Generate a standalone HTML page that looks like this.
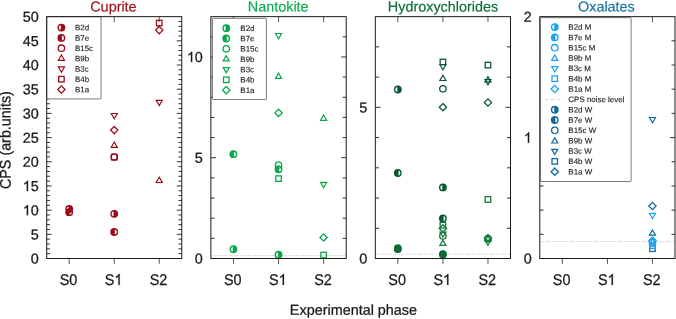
<!DOCTYPE html>
<html><head><meta charset="utf-8"><title>chart</title>
<style>html,body{margin:0;padding:0;background:#fff}body{width:676px;height:319px;overflow:hidden;position:relative;font-family:"Liberation Sans",sans-serif}</style>
</head><body>
<svg width="676" height="319" viewBox="0 0 676 319" style="position:absolute;left:0;top:0;will-change:transform;text-rendering:geometricPrecision;font-family:'Liberation Sans',sans-serif">
<rect width="676" height="319" fill="#fff"/>
<path d="M46.7,253.66h3.3M181.75,253.66h-3.3M46.7,248.83h3.3M181.75,248.83h-3.3M46.7,243.99h3.3M181.75,243.99h-3.3M46.7,239.15h3.3M181.75,239.15h-3.3M46.7,234.31h5.0M181.75,234.31h-5.0M46.7,229.48h3.3M181.75,229.48h-3.3M46.7,224.64h3.3M181.75,224.64h-3.3M46.7,219.80h3.3M181.75,219.80h-3.3M46.7,214.97h3.3M181.75,214.97h-3.3M46.7,210.13h5.0M181.75,210.13h-5.0M46.7,205.29h3.3M181.75,205.29h-3.3M46.7,200.46h3.3M181.75,200.46h-3.3M46.7,195.62h3.3M181.75,195.62h-3.3M46.7,190.78h3.3M181.75,190.78h-3.3M46.7,185.94h5.0M181.75,185.94h-5.0M46.7,181.11h3.3M181.75,181.11h-3.3M46.7,176.27h3.3M181.75,176.27h-3.3M46.7,171.43h3.3M181.75,171.43h-3.3M46.7,166.60h3.3M181.75,166.60h-3.3M46.7,161.76h5.0M181.75,161.76h-5.0M46.7,156.92h3.3M181.75,156.92h-3.3M46.7,152.09h3.3M181.75,152.09h-3.3M46.7,147.25h3.3M181.75,147.25h-3.3M46.7,142.41h3.3M181.75,142.41h-3.3M46.7,137.57h5.0M181.75,137.57h-5.0M46.7,132.74h3.3M181.75,132.74h-3.3M46.7,127.90h3.3M181.75,127.90h-3.3M46.7,123.06h3.3M181.75,123.06h-3.3M46.7,118.23h3.3M181.75,118.23h-3.3M46.7,113.39h5.0M181.75,113.39h-5.0M46.7,108.55h3.3M181.75,108.55h-3.3M46.7,103.72h3.3M181.75,103.72h-3.3M46.7,98.88h3.3M181.75,98.88h-3.3M46.7,94.04h3.3M181.75,94.04h-3.3M46.7,89.21h5.0M181.75,89.21h-5.0M46.7,84.37h3.3M181.75,84.37h-3.3M46.7,79.53h3.3M181.75,79.53h-3.3M46.7,74.69h3.3M181.75,74.69h-3.3M46.7,69.86h3.3M181.75,69.86h-3.3M46.7,65.02h5.0M181.75,65.02h-5.0M46.7,60.18h3.3M181.75,60.18h-3.3M46.7,55.35h3.3M181.75,55.35h-3.3M46.7,50.51h3.3M181.75,50.51h-3.3M46.7,45.67h3.3M181.75,45.67h-3.3M46.7,40.84h5.0M181.75,40.84h-5.0M46.7,36.00h3.3M181.75,36.00h-3.3M46.7,31.16h3.3M181.75,31.16h-3.3M46.7,26.32h3.3M181.75,26.32h-3.3M46.7,21.49h3.3M181.75,21.49h-3.3" stroke="#1a1a1a" stroke-width="0.9" fill="none"/>
<path d="M69.21,16.65v5.4M69.21,258.5v5.4M114.23,16.65v5.4M114.23,258.5v5.4M159.24,16.65v5.4M159.24,258.5v5.4" stroke="#444" stroke-width="0.9" fill="none"/>
<circle cx="69.21" cy="209.0" r="3.2" fill="none" stroke="#980d17" stroke-width="1.4"/><path d="M68.81,205.82 A3.2,3.2 0 1 1 68.81,212.18 Z" fill="#980d17" stroke="#980d17" stroke-width="0.5"/>
<circle cx="69.21" cy="212.2" r="3.2" fill="none" stroke="#980d17" stroke-width="1.4"/><path d="M69.61,209.02 A3.2,3.2 0 1 0 69.61,215.38 Z" fill="#980d17" stroke="#980d17" stroke-width="0.5"/>
<circle cx="114.23" cy="213.8" r="3.2" fill="none" stroke="#980d17" stroke-width="1.4"/><path d="M113.83,210.62 A3.2,3.2 0 1 1 113.83,216.98 Z" fill="#980d17" stroke="#980d17" stroke-width="0.5"/>
<circle cx="114.23" cy="232.0" r="3.2" fill="none" stroke="#980d17" stroke-width="1.4"/><path d="M114.63,228.82 A3.2,3.2 0 1 0 114.63,235.18 Z" fill="#980d17" stroke="#980d17" stroke-width="0.5"/>
<circle cx="114.23" cy="157.1" r="3.2" fill="none" stroke="#980d17" stroke-width="1.3" stroke-linejoin="miter"/>
<rect x="111.48" y="154.35" width="5.5" height="5.5" fill="none" stroke="#980d17" stroke-width="1.3" stroke-linejoin="miter"/>
<path d="M114.23,142.03 L111.18,147.32 L117.28,147.32 Z" fill="none" stroke="#980d17" stroke-width="1.2" stroke-linejoin="miter"/>
<path d="M114.23,126.47 L117.86,130.1 L114.23,133.73 L110.6,130.1 Z" fill="none" stroke="#980d17" stroke-width="1.3" stroke-linejoin="miter"/>
<path d="M114.23,118.77 L111.18,113.48 L117.28,113.48 Z" fill="none" stroke="#980d17" stroke-width="1.2" stroke-linejoin="miter"/>
<rect x="156.49" y="20.25" width="5.5" height="5.5" fill="none" stroke="#980d17" stroke-width="1.3" stroke-linejoin="miter"/>
<path d="M159.24,26.47 L162.87,30.1 L159.24,33.73 L155.61,30.1 Z" fill="none" stroke="#980d17" stroke-width="1.3" stroke-linejoin="miter"/>
<path d="M159.24,105.57 L156.19,100.28 L162.29,100.28 Z" fill="none" stroke="#980d17" stroke-width="1.2" stroke-linejoin="miter"/>
<path d="M159.24,177.23 L156.19,182.52 L162.29,182.52 Z" fill="none" stroke="#980d17" stroke-width="1.2" stroke-linejoin="miter"/>
<line x1="210.85" y1="255.68" x2="346.2" y2="255.68" stroke="#d4d4d4" stroke-width="0.8" stroke-dasharray="4.6 1.4"/>
<path d="M210.85,238.35h3.7M346.2,238.35h-3.5M210.85,218.19h3.7M346.2,218.19h-3.5M210.85,198.04h3.7M346.2,198.04h-3.5M210.85,177.88h3.7M346.2,177.88h-3.5M210.85,157.73h5.3M346.2,157.73h-5.1M210.85,137.57h3.7M346.2,137.57h-3.5M210.85,117.42h3.7M346.2,117.42h-3.5M210.85,97.27h3.7M346.2,97.27h-3.5M210.85,77.11h3.7M346.2,77.11h-3.5M210.85,56.96h5.3M346.2,56.96h-5.1M210.85,36.80h3.7M346.2,36.80h-3.5" stroke="#1a1a1a" stroke-width="0.9" fill="none"/>
<path d="M233.41,16.65v5.4M233.41,258.5v5.4M278.52,16.65v5.4M278.52,258.5v5.4M323.64,16.65v5.4M323.64,258.5v5.4" stroke="#444" stroke-width="0.9" fill="none"/>
<circle cx="233.41" cy="154.2" r="3.2" fill="none" stroke="#0aa64b" stroke-width="1.4"/><path d="M233.81,151.02 A3.2,3.2 0 1 0 233.81,157.38 Z" fill="#0aa64b" stroke="#0aa64b" stroke-width="0.5"/>
<circle cx="233.41" cy="249.2" r="3.2" fill="none" stroke="#0aa64b" stroke-width="1.4"/><path d="M233.01,246.02 A3.2,3.2 0 1 1 233.01,252.38 Z" fill="#0aa64b" stroke="#0aa64b" stroke-width="0.5"/>
<path d="M278.52,38.77 L275.47,33.48 L281.57,33.48 Z" fill="none" stroke="#0aa64b" stroke-width="1.2" stroke-linejoin="miter"/>
<path d="M278.52,73.13 L275.47,78.42 L281.57,78.42 Z" fill="none" stroke="#0aa64b" stroke-width="1.2" stroke-linejoin="miter"/>
<path d="M278.52,109.27 L282.15,112.9 L278.52,116.53 L274.89,112.9 Z" fill="none" stroke="#0aa64b" stroke-width="1.3" stroke-linejoin="miter"/>
<circle cx="278.52" cy="165.0" r="3.2" fill="none" stroke="#0aa64b" stroke-width="1.3" stroke-linejoin="miter"/>
<circle cx="278.52" cy="169.3" r="3.2" fill="none" stroke="#0aa64b" stroke-width="1.4"/><path d="M278.92,166.12 A3.2,3.2 0 1 0 278.92,172.48 Z" fill="#0aa64b" stroke="#0aa64b" stroke-width="0.5"/>
<rect x="275.77" y="175.85" width="5.5" height="5.5" fill="none" stroke="#0aa64b" stroke-width="1.3" stroke-linejoin="miter"/>
<circle cx="278.52" cy="254.7" r="3.2" fill="none" stroke="#0aa64b" stroke-width="1.4"/><path d="M278.12,251.52 A3.2,3.2 0 1 1 278.12,257.88 Z" fill="#0aa64b" stroke="#0aa64b" stroke-width="0.5"/>
<path d="M323.64,115.03 L320.59,120.32 L326.69,120.32 Z" fill="none" stroke="#0aa64b" stroke-width="1.2" stroke-linejoin="miter"/>
<path d="M323.64,187.67 L320.59,182.38 L326.69,182.38 Z" fill="none" stroke="#0aa64b" stroke-width="1.2" stroke-linejoin="miter"/>
<path d="M323.64,233.87 L327.27,237.5 L323.64,241.13 L320.01,237.5 Z" fill="none" stroke="#0aa64b" stroke-width="1.3" stroke-linejoin="miter"/>
<rect x="320.89" y="252.35" width="5.5" height="5.5" fill="none" stroke="#0aa64b" stroke-width="1.3" stroke-linejoin="miter"/>
<line x1="375.3" y1="254.27" x2="510.5" y2="254.27" stroke="#d4d4d4" stroke-width="0.8" stroke-dasharray="4.6 1.4"/>
<path d="M375.3,228.27h3.7M510.5,228.27h-3.5M375.3,198.04h3.7M510.5,198.04h-3.5M375.3,167.81h3.7M510.5,167.81h-3.5M375.3,137.57h3.7M510.5,137.57h-3.5M375.3,107.34h5.3M510.5,107.34h-5.1M375.3,77.11h3.7M510.5,77.11h-3.5M375.3,46.88h3.7M510.5,46.88h-3.5" stroke="#1a1a1a" stroke-width="0.9" fill="none"/>
<path d="M397.83,16.65v5.4M397.83,258.5v5.4M442.90,16.65v5.4M442.90,258.5v5.4M487.97,16.65v5.4M487.97,258.5v5.4" stroke="#444" stroke-width="0.9" fill="none"/>
<circle cx="397.83" cy="89.5" r="3.2" fill="none" stroke="#0a5832" stroke-width="1.4"/><path d="M397.43,86.33 A3.2,3.2 0 1 1 397.43,92.67 Z" fill="#0a5832" stroke="#0a5832" stroke-width="0.5"/>
<circle cx="397.83" cy="173.0" r="3.2" fill="none" stroke="#0a5832" stroke-width="1.4"/><path d="M398.23,169.82 A3.2,3.2 0 1 0 398.23,176.18 Z" fill="#0a5832" stroke="#0a5832" stroke-width="0.5"/>
<circle cx="397.83" cy="248.2" r="3.2" fill="#0d6c34" stroke="#0d6c34" stroke-width="1.3"/>
<circle cx="397.83" cy="249.2" r="3.2" fill="#0d6c34" stroke="#0d6c34" stroke-width="1.3"/>
<rect x="440.15" y="59.25" width="5.5" height="5.5" fill="none" stroke="#0a5832" stroke-width="1.3" stroke-linejoin="miter"/>
<path d="M442.9,69.77 L439.85,64.48 L445.95,64.48 Z" fill="none" stroke="#0a5832" stroke-width="1.2" stroke-linejoin="miter"/>
<path d="M442.9,75.23 L439.85,80.52 L445.95,80.52 Z" fill="none" stroke="#0a5832" stroke-width="1.2" stroke-linejoin="miter"/>
<circle cx="442.9" cy="88.8" r="3.2" fill="none" stroke="#0a5832" stroke-width="1.3" stroke-linejoin="miter"/>
<path d="M442.9,103.57 L446.53,107.2 L442.9,110.83 L439.27,107.2 Z" fill="none" stroke="#0a5832" stroke-width="1.3" stroke-linejoin="miter"/>
<circle cx="442.9" cy="187.4" r="3.2" fill="none" stroke="#0a5832" stroke-width="1.4"/><path d="M442.5,184.22 A3.2,3.2 0 1 1 442.5,190.58 Z" fill="#0a5832" stroke="#0a5832" stroke-width="0.5"/>
<circle cx="442.9" cy="218.5" r="3.2" fill="none" stroke="#0a5832" stroke-width="1.4"/><path d="M443.3,215.32 A3.2,3.2 0 1 0 443.3,221.68 Z" fill="#0a5832" stroke="#0a5832" stroke-width="0.5"/>
<rect x="440.15" y="222.45" width="5.5" height="5.5" fill="none" stroke="#0f7a38" stroke-width="1.3" stroke-linejoin="miter"/>
<path d="M442.9,224.77 L446.53,228.4 L442.9,232.03 L439.27,228.4 Z" fill="none" stroke="#0f7a38" stroke-width="1.3" stroke-linejoin="miter"/>
<path d="M442.9,237.27 L439.85,231.98 L445.95,231.98 Z" fill="none" stroke="#0f7a38" stroke-width="1.2" stroke-linejoin="miter"/>
<circle cx="442.9" cy="235.9" r="3.2" fill="none" stroke="#0f7a38" stroke-width="1.3" stroke-linejoin="miter"/>
<path d="M442.9,240.13 L439.85,245.42 L445.95,245.42 Z" fill="none" stroke="#0f7a38" stroke-width="1.2" stroke-linejoin="miter"/>
<circle cx="442.9" cy="254.0" r="3.2" fill="#0d6c34" stroke="#0d6c34" stroke-width="1.3"/>
<circle cx="442.9" cy="254.6" r="3.2" fill="#0d6c34" stroke="#0d6c34" stroke-width="1.3"/>
<rect x="485.22" y="62.35" width="5.5" height="5.5" fill="none" stroke="#0a5832" stroke-width="1.3" stroke-linejoin="miter"/>
<path d="M487.97,76.63 L484.92,81.92 L491.02,81.92 Z" fill="none" stroke="#0a5832" stroke-width="1.2" stroke-linejoin="miter"/>
<path d="M487.97,84.87 L484.92,79.58 L491.02,79.58 Z" fill="none" stroke="#0a5832" stroke-width="1.2" stroke-linejoin="miter"/>
<path d="M487.97,98.87 L491.6,102.5 L487.97,106.13 L484.34,102.5 Z" fill="none" stroke="#0a5832" stroke-width="1.3" stroke-linejoin="miter"/>
<rect x="485.22" y="196.75" width="5.5" height="5.5" fill="none" stroke="#0f7a38" stroke-width="1.3" stroke-linejoin="miter"/>
<path d="M487.97,234.67 L491.6,238.3 L487.97,241.93 L484.34,238.3 Z" fill="none" stroke="#0f7a38" stroke-width="1.3" stroke-linejoin="miter"/>
<circle cx="487.97" cy="238.6" r="3.2" fill="none" stroke="#0f7a38" stroke-width="1.3" stroke-linejoin="miter"/>
<path d="M487.97,235.83 L484.92,241.12 L491.02,241.12 Z" fill="none" stroke="#0f7a38" stroke-width="1.2" stroke-linejoin="miter"/>
<path d="M487.97,245.37 L484.92,240.08 L491.02,240.08 Z" fill="none" stroke="#0f7a38" stroke-width="1.2" stroke-linejoin="miter"/>
<line x1="539.8" y1="241.57" x2="675.0" y2="241.57" stroke="#d4d4d4" stroke-width="0.8" stroke-dasharray="4.6 1.4"/>
<path d="M539.8,234.31h3.7M675.0,234.31h-3.5M539.8,210.13h3.7M675.0,210.13h-3.5M539.8,185.94h3.7M675.0,185.94h-3.5M539.8,161.76h3.7M675.0,161.76h-3.5M539.8,137.57h5.3M675.0,137.57h-5.1M539.8,113.39h3.7M675.0,113.39h-3.5M539.8,89.20h3.7M675.0,89.20h-3.5M539.8,65.02h3.7M675.0,65.02h-3.5M539.8,40.84h3.7M675.0,40.84h-3.5" stroke="#1a1a1a" stroke-width="0.9" fill="none"/>
<path d="M562.33,16.65v5.4M562.33,258.5v5.4M607.40,16.65v5.4M607.40,258.5v5.4M652.47,16.65v5.4M652.47,258.5v5.4" stroke="#444" stroke-width="0.9" fill="none"/>
<path d="M652.47,122.77 L649.42,117.48 L655.52,117.48 Z" fill="none" stroke="#14699b" stroke-width="1.2" stroke-linejoin="miter"/>
<path d="M652.47,202.37 L656.1,206.0 L652.47,209.63 L648.84,206.0 Z" fill="none" stroke="#14699b" stroke-width="1.3" stroke-linejoin="miter"/>
<path d="M652.47,218.57 L649.42,213.28 L655.52,213.28 Z" fill="none" stroke="#18a4f0" stroke-width="1.2" stroke-linejoin="miter"/>
<path d="M652.47,229.83 L649.42,235.12 L655.52,235.12 Z" fill="none" stroke="#14699b" stroke-width="1.2" stroke-linejoin="miter"/>
<rect x="649.72" y="245.95" width="5.5" height="5.5" fill="none" stroke="#14699b" stroke-width="1.3" stroke-linejoin="miter"/>
<path d="M652.47,236.87 L656.1,240.5 L652.47,244.13 L648.84,240.5 Z" fill="none" stroke="#18a4f0" stroke-width="1.3" stroke-linejoin="miter"/>
<path d="M652.47,238.93 L649.42,244.22 L655.52,244.22 Z" fill="none" stroke="#18a4f0" stroke-width="1.2" stroke-linejoin="miter"/>
<circle cx="652.47" cy="242.2" r="3.2" fill="none" stroke="#18a4f0" stroke-width="1.3" stroke-linejoin="miter"/>
<rect x="649.72" y="242.85" width="5.5" height="5.5" fill="none" stroke="#18a4f0" stroke-width="1.3" stroke-linejoin="miter"/>
<rect x="46.70" y="16.65" width="54.30" height="82.25" rx="0.6" fill="#fff" stroke="#7a7a7a" stroke-width="1"/>
<circle cx="61.4" cy="27.55" r="3.2" fill="none" stroke="#980d17" stroke-width="1.4"/><path d="M61.0,24.38 A3.2,3.2 0 1 1 61.0,30.73 Z" fill="#980d17" stroke="#980d17" stroke-width="0.5"/>
<text transform="translate(75.00,30.35) rotate(0.03)" font-size="7.95" fill="#1c1c1c" stroke="#1c1c1c" stroke-width="0.12">B2d</text>
<circle cx="61.4" cy="37.88" r="3.2" fill="none" stroke="#980d17" stroke-width="1.4"/><path d="M61.8,34.71 A3.2,3.2 0 1 0 61.8,41.05 Z" fill="#980d17" stroke="#980d17" stroke-width="0.5"/>
<text transform="translate(75.00,40.68) rotate(0.03)" font-size="7.95" fill="#1c1c1c" stroke="#1c1c1c" stroke-width="0.12">B7e</text>
<circle cx="61.4" cy="48.21" r="3.2" fill="none" stroke="#980d17" stroke-width="1.3" stroke-linejoin="miter"/>
<text transform="translate(75.00,51.01) rotate(0.03)" font-size="7.95" fill="#1c1c1c" stroke="#1c1c1c" stroke-width="0.12">B15c</text>
<path d="M61.4,55.02 L58.35,60.31 L64.45,60.31 Z" fill="none" stroke="#980d17" stroke-width="1.2" stroke-linejoin="miter"/>
<text transform="translate(75.00,61.34) rotate(0.03)" font-size="7.95" fill="#1c1c1c" stroke="#1c1c1c" stroke-width="0.12">B9b</text>
<path d="M61.4,72.24 L58.35,66.95 L64.45,66.95 Z" fill="none" stroke="#980d17" stroke-width="1.2" stroke-linejoin="miter"/>
<text transform="translate(75.00,71.67) rotate(0.03)" font-size="7.95" fill="#1c1c1c" stroke="#1c1c1c" stroke-width="0.12">B3c</text>
<rect x="58.65" y="76.45" width="5.5" height="5.5" fill="none" stroke="#980d17" stroke-width="1.3" stroke-linejoin="miter"/>
<text transform="translate(75.00,82.00) rotate(0.03)" font-size="7.95" fill="#1c1c1c" stroke="#1c1c1c" stroke-width="0.12">B4b</text>
<path d="M61.4,85.9 L65.03,89.53 L61.4,93.16 L57.77,89.53 Z" fill="none" stroke="#980d17" stroke-width="1.3" stroke-linejoin="miter"/>
<text transform="translate(75.00,92.33) rotate(0.03)" font-size="7.95" fill="#1c1c1c" stroke="#1c1c1c" stroke-width="0.12">B1a</text>
<rect x="212.45" y="18.30" width="53.95" height="81.20" rx="0.6" fill="#fff" stroke="#7a7a7a" stroke-width="1"/>
<circle cx="226.25" cy="28.15" r="3.2" fill="none" stroke="#0aa64b" stroke-width="1.4"/><path d="M225.85,24.97 A3.2,3.2 0 1 1 225.85,31.32 Z" fill="#0aa64b" stroke="#0aa64b" stroke-width="0.5"/>
<text transform="translate(240.35,30.95) rotate(0.03)" font-size="7.95" fill="#1c1c1c" stroke="#1c1c1c" stroke-width="0.12">B2d</text>
<circle cx="226.25" cy="38.48" r="3.2" fill="none" stroke="#0aa64b" stroke-width="1.4"/><path d="M226.65,35.3 A3.2,3.2 0 1 0 226.65,41.65 Z" fill="#0aa64b" stroke="#0aa64b" stroke-width="0.5"/>
<text transform="translate(240.35,41.28) rotate(0.03)" font-size="7.95" fill="#1c1c1c" stroke="#1c1c1c" stroke-width="0.12">B7e</text>
<circle cx="226.25" cy="48.81" r="3.2" fill="none" stroke="#0aa64b" stroke-width="1.3" stroke-linejoin="miter"/>
<text transform="translate(240.35,51.61) rotate(0.03)" font-size="7.95" fill="#1c1c1c" stroke="#1c1c1c" stroke-width="0.12">B15c</text>
<path d="M226.25,55.62 L223.2,60.91 L229.3,60.91 Z" fill="none" stroke="#0aa64b" stroke-width="1.2" stroke-linejoin="miter"/>
<text transform="translate(240.35,61.94) rotate(0.03)" font-size="7.95" fill="#1c1c1c" stroke="#1c1c1c" stroke-width="0.12">B9b</text>
<path d="M226.25,72.84 L223.2,67.55 L229.3,67.55 Z" fill="none" stroke="#0aa64b" stroke-width="1.2" stroke-linejoin="miter"/>
<text transform="translate(240.35,72.27) rotate(0.03)" font-size="7.95" fill="#1c1c1c" stroke="#1c1c1c" stroke-width="0.12">B3c</text>
<rect x="223.5" y="77.05" width="5.5" height="5.5" fill="none" stroke="#0aa64b" stroke-width="1.3" stroke-linejoin="miter"/>
<text transform="translate(240.35,82.60) rotate(0.03)" font-size="7.95" fill="#1c1c1c" stroke="#1c1c1c" stroke-width="0.12">B4b</text>
<path d="M226.25,86.5 L229.88,90.13 L226.25,93.76 L222.62,90.13 Z" fill="none" stroke="#0aa64b" stroke-width="1.3" stroke-linejoin="miter"/>
<text transform="translate(240.35,92.93) rotate(0.03)" font-size="7.95" fill="#1c1c1c" stroke="#1c1c1c" stroke-width="0.12">B1a</text>
<rect x="540.30" y="17.65" width="90.80" height="163.85" rx="0.6" fill="#fff" stroke="#7a7a7a" stroke-width="1"/>
<circle cx="554.75" cy="27.05" r="3.2" fill="none" stroke="#18a4f0" stroke-width="1.4"/><path d="M554.35,23.88 A3.2,3.2 0 1 1 554.35,30.23 Z" fill="#18a4f0" stroke="#18a4f0" stroke-width="0.5"/>
<text transform="translate(568.35,29.80) rotate(0.03)" font-size="7.95" fill="#1c1c1c" stroke="#1c1c1c" stroke-width="0.12">B2d M</text>
<circle cx="554.75" cy="37.38" r="3.2" fill="none" stroke="#18a4f0" stroke-width="1.4"/><path d="M555.15,34.21 A3.2,3.2 0 1 0 555.15,40.55 Z" fill="#18a4f0" stroke="#18a4f0" stroke-width="0.5"/>
<text transform="translate(568.35,40.13) rotate(0.03)" font-size="7.95" fill="#1c1c1c" stroke="#1c1c1c" stroke-width="0.12">B7e M</text>
<circle cx="554.75" cy="47.71" r="3.2" fill="none" stroke="#18a4f0" stroke-width="1.3" stroke-linejoin="miter"/>
<text transform="translate(568.35,50.46) rotate(0.03)" font-size="7.95" fill="#1c1c1c" stroke="#1c1c1c" stroke-width="0.12">B15c M</text>
<path d="M554.75,55.07 L551.7,60.36 L557.8,60.36 Z" fill="none" stroke="#18a4f0" stroke-width="1.2" stroke-linejoin="miter"/>
<text transform="translate(568.35,60.79) rotate(0.03)" font-size="7.95" fill="#1c1c1c" stroke="#1c1c1c" stroke-width="0.12">B9b M</text>
<path d="M554.75,71.99 L551.7,66.7 L557.8,66.7 Z" fill="none" stroke="#18a4f0" stroke-width="1.2" stroke-linejoin="miter"/>
<text transform="translate(568.35,71.12) rotate(0.03)" font-size="7.95" fill="#1c1c1c" stroke="#1c1c1c" stroke-width="0.12">B3c M</text>
<rect x="552.0" y="75.95" width="5.5" height="5.5" fill="none" stroke="#18a4f0" stroke-width="1.3" stroke-linejoin="miter"/>
<text transform="translate(568.35,81.45) rotate(0.03)" font-size="7.95" fill="#1c1c1c" stroke="#1c1c1c" stroke-width="0.12">B4b M</text>
<path d="M554.75,85.4 L558.38,89.03 L554.75,92.66 L551.12,89.03 Z" fill="none" stroke="#18a4f0" stroke-width="1.3" stroke-linejoin="miter"/>
<text transform="translate(568.35,91.78) rotate(0.03)" font-size="7.95" fill="#1c1c1c" stroke="#1c1c1c" stroke-width="0.12">B1a M</text>
<line x1="544.90" y1="99.46" x2="562.55" y2="99.46" stroke="#cdcdcd" stroke-width="0.7" stroke-dasharray="4.1 1.8"/>
<text transform="translate(568.35,102.11) rotate(0.03)" font-size="7.95" fill="#1c1c1c" stroke="#1c1c1c" stroke-width="0.12">CPS noise level</text>
<circle cx="554.75" cy="109.69" r="3.2" fill="none" stroke="#14699b" stroke-width="1.4"/><path d="M554.35,106.52 A3.2,3.2 0 1 1 554.35,112.86 Z" fill="#14699b" stroke="#14699b" stroke-width="0.5"/>
<text transform="translate(568.35,112.44) rotate(0.03)" font-size="7.95" fill="#1c1c1c" stroke="#1c1c1c" stroke-width="0.12">B2d W</text>
<circle cx="554.75" cy="120.02" r="3.2" fill="none" stroke="#14699b" stroke-width="1.4"/><path d="M555.15,116.84 A3.2,3.2 0 1 0 555.15,123.19 Z" fill="#14699b" stroke="#14699b" stroke-width="0.5"/>
<text transform="translate(568.35,122.77) rotate(0.03)" font-size="7.95" fill="#1c1c1c" stroke="#1c1c1c" stroke-width="0.12">B7e W</text>
<circle cx="554.75" cy="130.35" r="3.2" fill="none" stroke="#14699b" stroke-width="1.3" stroke-linejoin="miter"/>
<text transform="translate(568.35,133.10) rotate(0.03)" font-size="7.95" fill="#1c1c1c" stroke="#1c1c1c" stroke-width="0.12">B15c W</text>
<path d="M554.75,137.71 L551.7,143.0 L557.8,143.0 Z" fill="none" stroke="#14699b" stroke-width="1.2" stroke-linejoin="miter"/>
<text transform="translate(568.35,143.43) rotate(0.03)" font-size="7.95" fill="#1c1c1c" stroke="#1c1c1c" stroke-width="0.12">B9b W</text>
<path d="M554.75,154.63 L551.7,149.34 L557.8,149.34 Z" fill="none" stroke="#14699b" stroke-width="1.2" stroke-linejoin="miter"/>
<text transform="translate(568.35,153.76) rotate(0.03)" font-size="7.95" fill="#1c1c1c" stroke="#1c1c1c" stroke-width="0.12">B3c W</text>
<rect x="552.0" y="158.59" width="5.5" height="5.5" fill="none" stroke="#14699b" stroke-width="1.3" stroke-linejoin="miter"/>
<text transform="translate(568.35,164.09) rotate(0.03)" font-size="7.95" fill="#1c1c1c" stroke="#1c1c1c" stroke-width="0.12">B4b W</text>
<path d="M554.75,168.04 L558.38,171.67 L554.75,175.3 L551.12,171.67 Z" fill="none" stroke="#14699b" stroke-width="1.3" stroke-linejoin="miter"/>
<text transform="translate(568.35,174.42) rotate(0.03)" font-size="7.95" fill="#1c1c1c" stroke="#1c1c1c" stroke-width="0.12">B1a W</text>
<rect x="46.7" y="16.65" width="135.05" height="241.85" fill="none" stroke="#1a1a1a" stroke-width="1.0"/>
<rect x="210.85" y="16.65" width="135.35" height="241.85" fill="none" stroke="#1a1a1a" stroke-width="1.0"/>
<rect x="375.3" y="16.65" width="135.20" height="241.85" fill="none" stroke="#1a1a1a" stroke-width="1.0"/>
<rect x="539.8" y="16.65" width="135.20" height="241.85" fill="none" stroke="#1a1a1a" stroke-width="1.0"/>
<text transform="translate(113.42,11.55) rotate(0.03)" font-size="14.4" text-anchor="middle" fill="#a0151a" stroke="#a0151a" stroke-width="0.2">Cuprite</text>
<text transform="translate(68.51,284.9) rotate(0.03) scale(1,1.07)" font-size="14.4" text-anchor="middle" fill="#1a1a1a" stroke="#1a1a1a" stroke-width="0.25">S0</text>
<text transform="translate(104.72,284.9) rotate(0.03) scale(1,1.07)" font-size="14.4" fill="#1a1a1a" stroke="#1a1a1a" stroke-width="0.25">S</text>
<path transform="translate(114.32,284.90) scale(0.00703,-0.00752)" d="M763 0H583V1147Q518 1085 412.5 1023T223 930V1104Q373 1174.5 485 1275T644 1466H763Z" fill="#1a1a1a" stroke="#1a1a1a" stroke-width="35.6"/>
<text transform="translate(158.54,284.9) rotate(0.03) scale(1,1.07)" font-size="14.4" text-anchor="middle" fill="#1a1a1a" stroke="#1a1a1a" stroke-width="0.25">S2</text>
<text transform="translate(38.70,263.60) rotate(0.03)" font-size="14.4" text-anchor="end" fill="#1a1a1a" stroke="#1a1a1a" stroke-width="0.25">0</text>
<text transform="translate(38.70,239.41) rotate(0.03)" font-size="14.4" text-anchor="end" fill="#1a1a1a" stroke="#1a1a1a" stroke-width="0.25">5</text>
<text transform="translate(38.70,215.23) rotate(0.03)" font-size="14.4" text-anchor="end" fill="#1a1a1a" stroke="#1a1a1a" stroke-width="0.25">0</text>
<path transform="translate(22.69,215.23) scale(0.00703,-0.00703)" d="M763 0H583V1147Q518 1085 412.5 1023T223 930V1104Q373 1174.5 485 1275T644 1466H763Z" fill="#1a1a1a" stroke="#1a1a1a" stroke-width="35.6"/>
<text transform="translate(38.70,191.04) rotate(0.03)" font-size="14.4" text-anchor="end" fill="#1a1a1a" stroke="#1a1a1a" stroke-width="0.25">5</text>
<path transform="translate(22.69,191.04) scale(0.00703,-0.00703)" d="M763 0H583V1147Q518 1085 412.5 1023T223 930V1104Q373 1174.5 485 1275T644 1466H763Z" fill="#1a1a1a" stroke="#1a1a1a" stroke-width="35.6"/>
<text transform="translate(38.70,166.86) rotate(0.03)" font-size="14.4" text-anchor="end" fill="#1a1a1a" stroke="#1a1a1a" stroke-width="0.25">20</text>
<text transform="translate(38.70,142.67) rotate(0.03)" font-size="14.4" text-anchor="end" fill="#1a1a1a" stroke="#1a1a1a" stroke-width="0.25">25</text>
<text transform="translate(38.70,118.49) rotate(0.03)" font-size="14.4" text-anchor="end" fill="#1a1a1a" stroke="#1a1a1a" stroke-width="0.25">30</text>
<text transform="translate(38.70,94.31) rotate(0.03)" font-size="14.4" text-anchor="end" fill="#1a1a1a" stroke="#1a1a1a" stroke-width="0.25">35</text>
<text transform="translate(38.70,70.12) rotate(0.03)" font-size="14.4" text-anchor="end" fill="#1a1a1a" stroke="#1a1a1a" stroke-width="0.25">40</text>
<text transform="translate(38.70,45.94) rotate(0.03)" font-size="14.4" text-anchor="end" fill="#1a1a1a" stroke="#1a1a1a" stroke-width="0.25">45</text>
<text transform="translate(38.70,21.75) rotate(0.03)" font-size="14.4" text-anchor="end" fill="#1a1a1a" stroke="#1a1a1a" stroke-width="0.25">50</text>
<text transform="translate(278.22,11.55) rotate(0.03)" font-size="14.4" text-anchor="middle" fill="#12ad52" stroke="#12ad52" stroke-width="0.2">Nantokite</text>
<text transform="translate(232.71,284.9) rotate(0.03) scale(1,1.07)" font-size="14.4" text-anchor="middle" fill="#1a1a1a" stroke="#1a1a1a" stroke-width="0.25">S0</text>
<text transform="translate(269.02,284.9) rotate(0.03) scale(1,1.07)" font-size="14.4" fill="#1a1a1a" stroke="#1a1a1a" stroke-width="0.25">S</text>
<path transform="translate(278.62,284.90) scale(0.00703,-0.00752)" d="M763 0H583V1147Q518 1085 412.5 1023T223 930V1104Q373 1174.5 485 1275T644 1466H763Z" fill="#1a1a1a" stroke="#1a1a1a" stroke-width="35.6"/>
<text transform="translate(322.94,284.9) rotate(0.03) scale(1,1.07)" font-size="14.4" text-anchor="middle" fill="#1a1a1a" stroke="#1a1a1a" stroke-width="0.25">S2</text>
<text transform="translate(202.85,263.60) rotate(0.03)" font-size="14.4" text-anchor="end" fill="#1a1a1a" stroke="#1a1a1a" stroke-width="0.25">0</text>
<text transform="translate(202.85,162.83) rotate(0.03)" font-size="14.4" text-anchor="end" fill="#1a1a1a" stroke="#1a1a1a" stroke-width="0.25">5</text>
<text transform="translate(202.85,62.06) rotate(0.03)" font-size="14.4" text-anchor="end" fill="#1a1a1a" stroke="#1a1a1a" stroke-width="0.25">0</text>
<path transform="translate(186.84,62.06) scale(0.00703,-0.00703)" d="M763 0H583V1147Q518 1085 412.5 1023T223 930V1104Q373 1174.5 485 1275T644 1466H763Z" fill="#1a1a1a" stroke="#1a1a1a" stroke-width="35.6"/>
<text transform="translate(443.00,11.55) rotate(0.03)" font-size="14.4" text-anchor="middle" fill="#12703a" stroke="#12703a" stroke-width="0.2">Hydroxychlorides</text>
<text transform="translate(397.13,284.9) rotate(0.03) scale(1,1.07)" font-size="14.4" text-anchor="middle" fill="#1a1a1a" stroke="#1a1a1a" stroke-width="0.25">S0</text>
<text transform="translate(433.39,284.9) rotate(0.03) scale(1,1.07)" font-size="14.4" fill="#1a1a1a" stroke="#1a1a1a" stroke-width="0.25">S</text>
<path transform="translate(443.00,284.90) scale(0.00703,-0.00752)" d="M763 0H583V1147Q518 1085 412.5 1023T223 930V1104Q373 1174.5 485 1275T644 1466H763Z" fill="#1a1a1a" stroke="#1a1a1a" stroke-width="35.6"/>
<text transform="translate(487.27,284.9) rotate(0.03) scale(1,1.07)" font-size="14.4" text-anchor="middle" fill="#1a1a1a" stroke="#1a1a1a" stroke-width="0.25">S2</text>
<text transform="translate(367.30,263.60) rotate(0.03)" font-size="14.4" text-anchor="end" fill="#1a1a1a" stroke="#1a1a1a" stroke-width="0.25">0</text>
<text transform="translate(367.30,112.44) rotate(0.03)" font-size="14.4" text-anchor="end" fill="#1a1a1a" stroke="#1a1a1a" stroke-width="0.25">5</text>
<text transform="translate(606.40,11.55) rotate(0.03)" font-size="14.4" text-anchor="middle" fill="#1b74a4" stroke="#1b74a4" stroke-width="0.2">Oxalates</text>
<text transform="translate(561.63,284.9) rotate(0.03) scale(1,1.07)" font-size="14.4" text-anchor="middle" fill="#1a1a1a" stroke="#1a1a1a" stroke-width="0.25">S0</text>
<text transform="translate(597.89,284.9) rotate(0.03) scale(1,1.07)" font-size="14.4" fill="#1a1a1a" stroke="#1a1a1a" stroke-width="0.25">S</text>
<path transform="translate(607.50,284.90) scale(0.00703,-0.00752)" d="M763 0H583V1147Q518 1085 412.5 1023T223 930V1104Q373 1174.5 485 1275T644 1466H763Z" fill="#1a1a1a" stroke="#1a1a1a" stroke-width="35.6"/>
<text transform="translate(651.77,284.9) rotate(0.03) scale(1,1.07)" font-size="14.4" text-anchor="middle" fill="#1a1a1a" stroke="#1a1a1a" stroke-width="0.25">S2</text>
<text transform="translate(531.80,263.60) rotate(0.03)" font-size="14.4" text-anchor="end" fill="#1a1a1a" stroke="#1a1a1a" stroke-width="0.25">0</text>
<path transform="translate(523.79,142.67) scale(0.00703,-0.00703)" d="M763 0H583V1147Q518 1085 412.5 1023T223 930V1104Q373 1174.5 485 1275T644 1466H763Z" fill="#1a1a1a" stroke="#1a1a1a" stroke-width="35.6"/>
<text transform="translate(531.80,21.75) rotate(0.03)" font-size="14.4" text-anchor="end" fill="#1a1a1a" stroke="#1a1a1a" stroke-width="0.25">2</text>
<text transform="translate(353.45,314.8) rotate(0.03)" font-size="14.4" text-anchor="middle" fill="#1a1a1a" stroke="#1a1a1a" stroke-width="0.25">Experimental phase</text>
<text transform="translate(10.6,140.1) rotate(-90.03) scale(1,1.07)" font-size="14.32" text-anchor="middle" fill="#1a1a1a" stroke="#1a1a1a" stroke-width="0.25">CPS (arb.units)</text>
</svg>
</body></html>
